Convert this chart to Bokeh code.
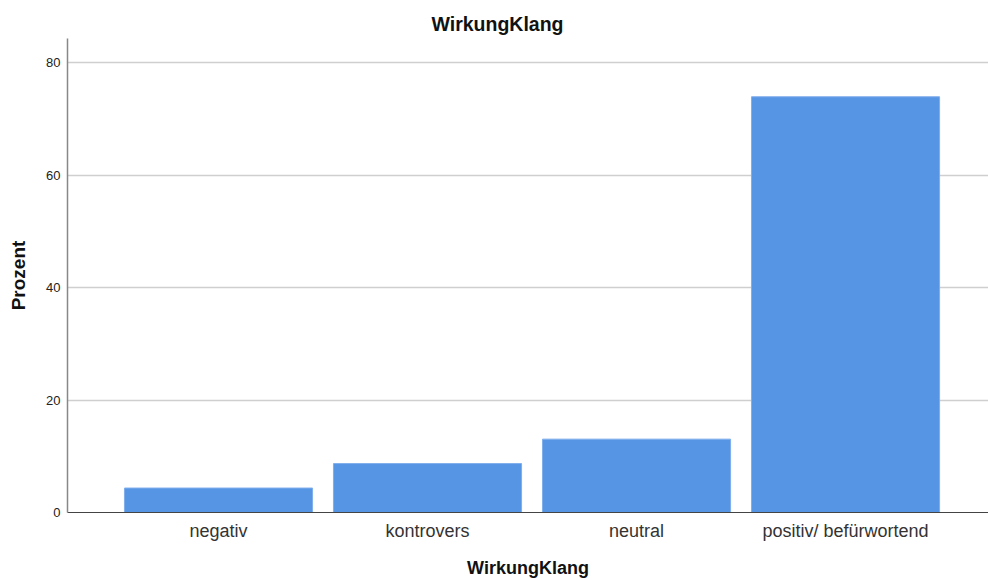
from bokeh.plotting import figure
from bokeh.models import FixedTicker, Range1d, ColumnDataSource, Title
from bokeh.embed import file_html
from bokeh.resources import INLINE

categories = ["negativ", "kontrovers", "neutral", "positiv/ befürwortend"]
percent = [4.35, 8.70, 13.04, 73.91]
y_ticks = [0, 20, 40, 60, 80]

xpos = list(range(len(categories)))
src = ColumnDataSource(dict(x=xpos, top=percent, cat=categories))

FONT = "Liberation Sans"

p = figure(width=988, height=580, output_backend="svg", toolbar_location=None,
           x_range=Range1d(-0.7225, 3.684), y_range=Range1d(0, 84.27),
           min_border_left=67, min_border_right=0, min_border_top=38, min_border_bottom=68)

p.vbar(x="x", top="top", width=0.9, bottom=0, source=src,
       fill_color="#5694E4", line_color="#7FAEEC", line_width=1)

p.title = Title(text="WirkungKlang", align="left", offset=364, standoff=8,
                text_font=FONT, text_font_size="19.5px", text_font_style="bold",
                text_color="#111111")

p.outline_line_color = None
p.xgrid.grid_line_color = None
p.ygrid.grid_line_color = "#CFCFCF"
p.ygrid.grid_line_width = 1.5
p.ygrid.ticker = FixedTicker(ticks=y_ticks)

p.yaxis.ticker = FixedTicker(ticks=y_ticks)
p.yaxis.axis_label = "Prozent"
p.yaxis.axis_label_text_font = FONT
p.yaxis.axis_label_text_font_size = "19px"
p.yaxis.axis_label_text_font_style = "bold"
p.yaxis.axis_label_text_color = "#111111"
p.yaxis.axis_label_standoff = 14
p.yaxis.major_label_text_font = FONT
p.yaxis.major_label_text_font_size = "13px"
p.yaxis.major_label_text_color = "#222222"
p.yaxis.major_label_standoff = 7
p.yaxis.major_tick_line_color = None
p.yaxis.major_tick_out = 0
p.yaxis.major_tick_in = 0
p.yaxis.minor_tick_line_color = None
p.yaxis.minor_tick_out = 0
p.yaxis.axis_line_color = "#888888"
p.yaxis.axis_line_width = 1.5

p.xaxis.ticker = FixedTicker(ticks=xpos)
p.xaxis.major_label_overrides = {i: c for i, c in zip(xpos, categories)}
p.xaxis.axis_label = "WirkungKlang"
p.xaxis.axis_label_text_font = FONT
p.xaxis.axis_label_text_font_size = "18px"
p.xaxis.axis_label_text_font_style = "bold"
p.xaxis.axis_label_text_color = "#111111"
p.xaxis.axis_label_standoff = 14
p.xaxis.major_label_text_font = FONT
p.xaxis.major_label_text_font_size = "18px"
p.xaxis.major_label_text_color = "#333333"
p.xaxis.major_label_standoff = 8
p.xaxis.major_tick_line_color = None
p.xaxis.major_tick_out = 0
p.xaxis.major_tick_in = 0
p.xaxis.minor_tick_line_color = None
p.xaxis.minor_tick_out = 0
p.xaxis.axis_line_color = "#444444"
p.xaxis.axis_line_width = 1.2

open("out.html", "w").write(file_html(p, INLINE))
